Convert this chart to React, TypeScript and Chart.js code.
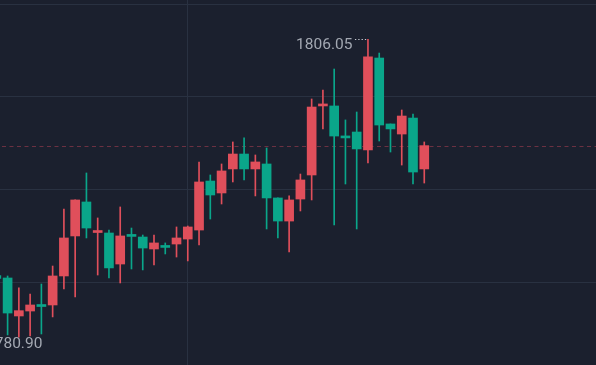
import React, { useEffect, useRef } from 'react';
import { Chart, registerables } from 'chart.js';

Chart.register(...registerables);

// Candle index (x position) and OHLC prices
const INDEX = [
  0, 1, 2, 3, 4, 5, 6, 7, 8, 9, 10, 11, 12, 13, 14, 15, 16, 17, 18, 19,
  20, 21, 22, 23, 24, 25, 26, 27, 28, 29, 30, 31, 32, 33, 34, 35, 36, 37, 38,
];
const OPEN = [
  1786.10, 1785.89, 1782.68, 1783.10, 1783.57, 1783.61, 1786.06, 1789.44, 1792.31, 1789.73,
  1789.69, 1787.07, 1789.48, 1789.35, 1788.34, 1788.55, 1788.76, 1789.18, 1789.94, 1794.08,
  1793.07, 1795.10, 1796.36, 1795.10, 1795.52, 1792.65, 1790.70, 1792.56, 1794.59, 1800.42,
  1800.42, 1797.88, 1798.22, 1796.70, 1804.47, 1798.90, 1798.05, 1799.40, 1795.10,
];
const HIGH = [
  1786.40, 1786.06, 1785.05, 1784.54, 1785.38, 1786.90, 1791.72, 1792.50, 1794.76, 1790.96,
  1789.94, 1791.89, 1790.11, 1789.52, 1789.52, 1788.85, 1790.20, 1790.28, 1795.69, 1794.59,
  1795.52, 1797.38, 1797.72, 1796.28, 1796.87, 1792.65, 1792.82, 1794.67, 1801.01, 1801.77,
  1803.54, 1799.24, 1799.91, 1806.05, 1804.89, 1798.90, 1800.08, 1799.74, 1797.38,
];
const LOW = [
  1785.38, 1781.08, 1780.90, 1780.99, 1781.16, 1782.60, 1784.96, 1784.29, 1789.27, 1786.14,
  1785.89, 1785.47, 1786.65, 1786.57, 1786.99, 1787.92, 1787.66, 1787.33, 1788.68, 1790.87,
  1792.14, 1794.00, 1794.17, 1792.82, 1790.03, 1789.27, 1788.09, 1791.55, 1792.48, 1798.48,
  1790.37, 1793.83, 1790.03, 1795.60, 1797.46, 1796.53, 1795.43, 1793.83, 1793.91,
];
const CLOSE = [
  1785.85, 1782.93, 1783.13, 1783.61, 1783.48, 1786.06, 1789.27, 1792.48, 1790.11, 1789.82,
  1786.74, 1789.44, 1789.40, 1788.42, 1788.85, 1788.47, 1789.27, 1790.20, 1794.00, 1792.90,
  1794.93, 1796.36, 1795.10, 1795.69, 1792.65, 1790.70, 1792.48, 1794.17, 1800.33, 1800.59,
  1797.88, 1797.72, 1796.79, 1804.56, 1798.81, 1798.48, 1799.57, 1794.84, 1797.07,
];

// Horizontal and vertical grid positions (price / index values)
const Y_GRID = [1785.55, 1793.4, 1801.2, 1809.0];
const X_GRID = [17];

const X_MIN = 0.325;
const X_MAX = 53.25;
const Y_MIN = 1778.54;
const Y_MAX = 1809.37;

const UP = '#e04f5b';
const DOWN = '#0aa68a';
const BG = '#1b202e';
const GRID = '#293141';

const candleColor = (i: number) => (CLOSE[i] >= OPEN[i] ? UP : DOWN);

const markerPlugin = {
  id: 'markers',
  beforeDraw(chart: any) {
    const { ctx, width, height } = chart;
    ctx.save();
    ctx.fillStyle = BG;
    ctx.fillRect(0, 0, width, height);
    ctx.restore();
  },
  beforeDatasetsDraw(chart: any) {
    const { ctx, chartArea, scales } = chart;
    const last = CLOSE[CLOSE.length - 1];
    const y = Math.round(scales.y.getPixelForValue(last)) + 0.5;
    ctx.save();
    ctx.strokeStyle = 'rgba(190, 65, 85, 0.5)';
    ctx.lineWidth = 1;
    ctx.setLineDash([4, 3.5]);
    ctx.beginPath();
    ctx.moveTo(chartArea.left + 2, y);
    ctx.lineTo(chartArea.right, y);
    ctx.stroke();
    ctx.restore();
  },
  afterDatasetsDraw(chart: any) {
    const { ctx, scales } = chart;
    let hi = 0;
    let lo = 0;
    for (let i = 0; i < INDEX.length; i++) {
      if (HIGH[i] > HIGH[hi]) hi = i;
      if (LOW[i] < LOW[lo]) lo = i;
    }
    ctx.save();
    ctx.font = '15.5px Roboto';
    ctx.fillStyle = '#a3a8b2';
    ctx.textBaseline = 'alphabetic';

    // high marker
    const hx = scales.x.getPixelForValue(INDEX[hi]);
    const hy = scales.y.getPixelForValue(HIGH[hi]);
    ctx.textAlign = 'right';
    ctx.fillText(HIGH[hi].toFixed(2), hx - 15.5, hy + 10);
    ctx.strokeStyle = '#c9ccd4';
    ctx.lineWidth = 1;
    ctx.setLineDash([1.3, 2]);
    ctx.beginPath();
    ctx.moveTo(hx - 13, Math.round(hy) + 0.5);
    ctx.lineTo(hx, Math.round(hy) + 0.5);
    ctx.stroke();

    // low marker
    const lx = scales.x.getPixelForValue(INDEX[lo]);
    const ly = scales.y.getPixelForValue(LOW[lo]);
    ctx.textAlign = 'right';
    ctx.fillText(LOW[lo].toFixed(2), lx + 23.5, ly + 10.6);
    ctx.restore();
  },
};

export default function App() {
  const ref = useRef<HTMLCanvasElement | null>(null);

  useEffect(() => {
    if (!ref.current) return;
    const colors = INDEX.map((_, i) => candleColor(i));
    const chart = new Chart(ref.current, {
      type: 'bar',
      data: {
        datasets: [
          {
            label: 'body',
            data: INDEX.map((x, i) => ({ x, y: [OPEN[i], CLOSE[i]] })) as any,
            backgroundColor: colors,
            borderWidth: 0,
            barThickness: 9,
            minBarLength: 2,
            grouped: false,
          } as any,
          {
            label: 'wick',
            data: INDEX.map((x, i) => ({ x, y: [LOW[i], HIGH[i]] })) as any,
            backgroundColor: colors,
            borderWidth: 0,
            barThickness: 1,
            grouped: false,
          } as any,
        ],
      },
      options: {
        responsive: false,
        animation: false,
        events: [],
        layout: { padding: 0 },
        plugins: {
          legend: { display: false },
          tooltip: { enabled: false },
        },
        scales: {
          x: {
            type: 'linear',
            min: X_MIN,
            max: X_MAX,
            offset: false,
            display: true,
            grid: { display: true, color: GRID, drawTicks: false, offset: false, lineWidth: 1 },
            border: { display: false },
            ticks: { display: false },
            afterBuildTicks: (scale: any) => {
              scale.ticks = X_GRID.map((v) => ({ value: v }));
            },
          },
          y: {
            type: 'linear',
            min: Y_MIN,
            max: Y_MAX,
            beginAtZero: false,
            display: true,
            grid: { display: true, color: GRID, drawTicks: false, lineWidth: 1 },
            border: { display: false },
            ticks: { display: false },
            afterBuildTicks: (scale: any) => {
              scale.ticks = Y_GRID.map((v) => ({ value: v }));
            },
          },
        },
      },
      plugins: [markerPlugin],
    } as any);
    return () => chart.destroy();
  }, []);

  return (
    <div style={{ position: 'fixed', left: 0, top: 0, width: 596, height: 365, background: BG }}>
      <canvas ref={ref} width={596} height={365} style={{ display: 'block' }} />
    </div>
  );
}
